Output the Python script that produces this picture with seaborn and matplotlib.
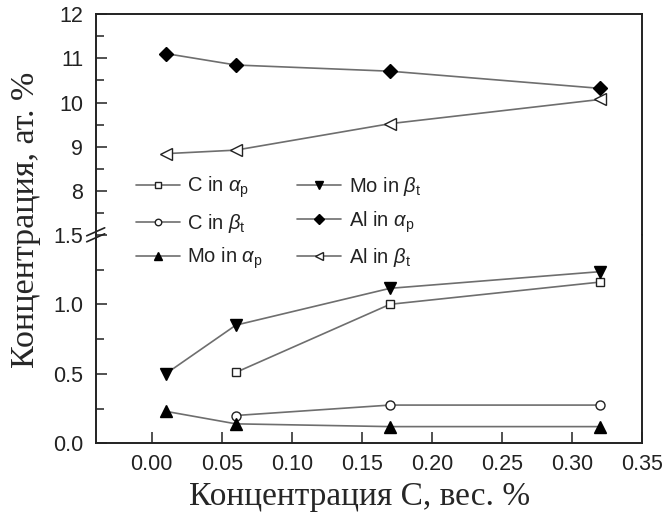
import numpy as np
import pandas as pd
import matplotlib
matplotlib.use("Agg")
import matplotlib.pyplot as plt
from matplotlib.lines import Line2D
from matplotlib.ticker import FixedLocator, FormatStrFormatter
import seaborn as sns

sns.set_style("white")
plt.rcParams['font.family'] = ['Liberation Sans', 'DejaVu Sans']
plt.rcParams['mathtext.fontset'] = 'custom'
plt.rcParams['mathtext.rm'] = 'Liberation Sans'
plt.rcParams['mathtext.it'] = 'Liberation Sans:italic'
plt.rcParams['mathtext.bf'] = 'Liberation Sans:bold'

# ---- data ----
x4 = [0.01, 0.06, 0.17, 0.32]
x3 = [0.06, 0.17, 0.32]
c_in_alpha = [0.51, 1.00, 1.16]
c_in_beta = [0.20, 0.275, 0.275]
mo_in_alpha = [0.23, 0.14, 0.12, 0.12]
mo_in_beta = [0.50, 0.85, 1.115, 1.235]
al_in_alpha = [11.11, 10.85, 10.71, 10.32]
al_in_beta = [8.84, 8.92, 9.52, 10.07]

labels = [r"C in $\alpha_\mathrm{p}$", r"C in $\beta_\mathrm{t}$", r"Mo in $\alpha_\mathrm{p}$",
          r"Mo in $\beta_\mathrm{t}$", r"Al in $\alpha_\mathrm{p}$", r"Al in $\beta_\mathrm{t}$"]
xticks = [0.00, 0.05, 0.10, 0.15, 0.20, 0.25, 0.30, 0.35]
xlabel = "Концентрация С, вес. %"
ylabel = "Концентрация, ат. %"

W, H = 663, 519
fig = plt.figure(figsize=(W / 100, H / 100), dpi=100)

L, R = 95.7, 642.3
T, B, BRK = 14.3, 443.3, 234.8
ax_top = fig.add_axes([L / W, 1 - BRK / H, (R - L) / W, (BRK - T) / H])
ax_bot = fig.add_axes([L / W, 1 - B / H, (R - L) / W, (B - BRK) / H])

line_col = "#6e6e6e"
series = [
    (ax_bot, x3, c_in_alpha, 's', 'white', 6.0),
    (ax_bot, x3, c_in_beta, 'o', 'white', 6.5),
    (ax_bot, x4, mo_in_alpha, '^', 'black', 8.0),
    (ax_bot, x4, mo_in_beta, 'v', 'black', 8.0),
    (ax_top, x4, al_in_alpha, 'D', 'black', 7.0),
    (ax_top, x4, al_in_beta, '<', 'white', 8.0),
]
handles = []
for (ax, xs, ys, mk, fc, ms), lab in zip(series, labels):
    df = pd.DataFrame({"x": xs, "y": ys})
    ec = "#222222" if fc == 'white' else 'black'
    sns.lineplot(data=df, x="x", y="y", ax=ax, color=line_col, lw=1.2,
                 marker=mk, markersize=ms, markerfacecolor=fc,
                 markeredgecolor=ec, markeredgewidth=1.0,
                 legend=False, label=lab, zorder=3)
    handles.append(Line2D([], [], color=line_col, lw=1.2, marker=mk,
                          markersize=ms * 0.72, markerfacecolor=fc,
                          markeredgecolor=ec, markeredgewidth=1.0, label=lab))

for ax in (ax_top, ax_bot):
    ax.set_xlim(-0.04, 0.35)
    ax.set_xlabel("")
    ax.set_ylabel("")
    for s in ax.spines.values():
        s.set_color("#222222")
        s.set_linewidth(1.4)
    ax.tick_params(axis='both', which='both', direction='in', color="#222222",
                   labelsize=15.5, labelcolor="#222222", width=1.1,
                   left=True, bottom=True, top=False, right=False)
    ax.tick_params(which='major', length=8)
    ax.tick_params(which='minor', length=6)
    ax.tick_params(axis='y', pad=9)

ax_top.set_ylim(7.0, 12.0)
ax_top.yaxis.set_major_locator(FixedLocator([8, 9, 10, 11, 12]))
ax_top.yaxis.set_minor_locator(FixedLocator([7.5, 8.5, 9.5, 10.5, 11.5]))
ax_top.spines['bottom'].set_visible(False)
ax_top.tick_params(axis='x', which='both', bottom=False, labelbottom=False)

ax_bot.set_ylim(0.0, 1.5)
ax_bot.yaxis.set_major_locator(FixedLocator([0.0, 0.5, 1.0, 1.5]))
ax_bot.yaxis.set_minor_locator(FixedLocator([0.25, 0.75, 1.25]))
ax_bot.yaxis.set_major_formatter(FormatStrFormatter('%.1f'))
ax_bot.spines['top'].set_visible(False)
ax_bot.set_xticks(xticks)
ax_bot.set_xticklabels([f"{v:.2f}" for v in xticks])
ax_bot.tick_params(axis='x', pad=7.5)

# hide the 1.5 tick mark itself (break marker drawn there)
for t in ax_bot.yaxis.get_major_ticks():
    if abs(t.get_loc() - 1.5) < 1e-9:
        t.tick1line.set_visible(False)

# break marker on the left spine
for dy in (-3.0, 3.0):
    fig.add_artist(Line2D([(L - 9) / W, (L + 9) / W],
                          [1 - (BRK + dy + 4) / H, 1 - (BRK + dy - 4) / H],
                          transform=fig.transFigure, color="#222222", lw=1.2))

fig.text(360 / W, 1 - 497 / H, xlabel, ha='center', va='center',
         fontsize=24, family=['Liberation Serif', 'DejaVu Serif'])
fig.text(26 / W, 1 - 220 / H, ylabel, ha='center', va='center', rotation=90,
         fontsize=24.5, family=['Liberation Serif', 'DejaVu Serif'])

fig.legend(handles=handles, ncol=2, loc='upper left',
           bbox_to_anchor=(136 / W, 1 - 175 / H), frameon=False,
           fontsize=14.5, handlelength=2.2, handletextpad=0.35,
           columnspacing=1.7, labelspacing=0.55, borderpad=0.0,
           borderaxespad=0.0, labelcolor="#222222")

fig.savefig("out.png", dpi=100, facecolor='white')
